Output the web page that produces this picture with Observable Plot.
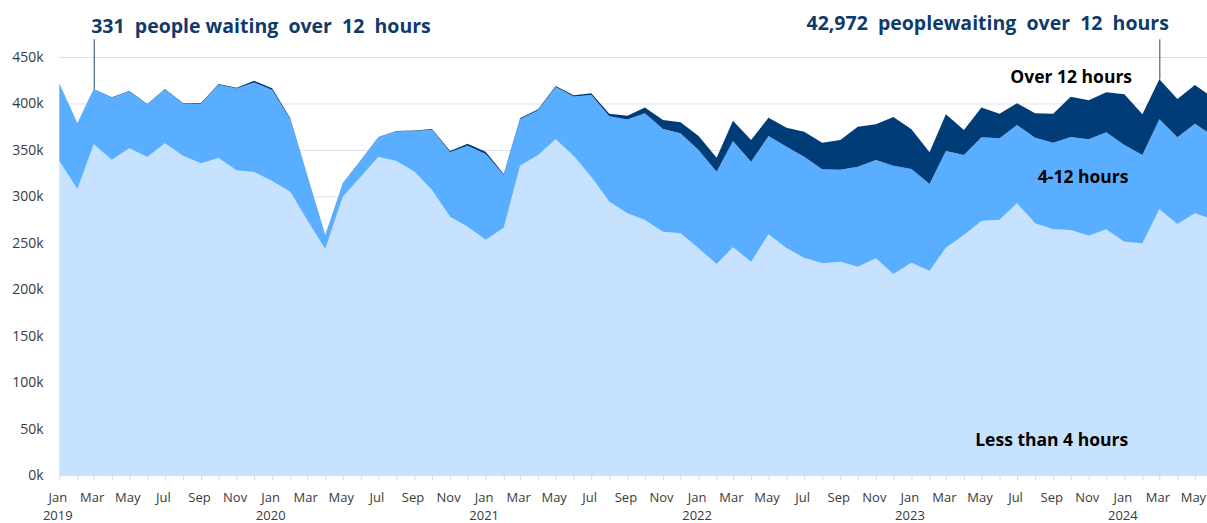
<!DOCTYPE html>
<html>
<head>
<meta charset="utf-8">
<script src="https://cdn.jsdelivr.net/npm/d3@7"></script>
<script src="https://cdn.jsdelivr.net/npm/@observablehq/plot@0.6"></script>
<style>
  html, body { margin: 0; padding: 0; background: #fff; overflow: hidden; }
  #chart svg text { white-space: pre; }
</style>
</head>
<body>
<div id="chart"></div>
<script>
// ---- Data (thousands of people) ----
const months = [
  "2019-01","2019-02","2019-03","2019-04","2019-05","2019-06","2019-07","2019-08","2019-09","2019-10","2019-11","2019-12",
  "2020-01","2020-02","2020-03","2020-04","2020-05","2020-06","2020-07","2020-08","2020-09","2020-10","2020-11","2020-12",
  "2021-01","2021-02","2021-03","2021-04","2021-05","2021-06","2021-07","2021-08","2021-09","2021-10","2021-11","2021-12",
  "2022-01","2022-02","2022-03","2022-04","2022-05","2022-06","2022-07","2022-08","2022-09","2022-10","2022-11","2022-12",
  "2023-01","2023-02","2023-03","2023-04","2023-05","2023-06","2023-07","2023-08","2023-09","2023-10","2023-11","2023-12",
  "2024-01","2024-02","2024-03","2024-04","2024-05","2024-06"
];
const lessThan4 = [
  338,308,356,339.5,351.7,342.3,357.1,343.8,335.5,341.3,328,326.2,
  316.5,305,274.5,243.3,299.6,321,342.7,338,326.5,306.8,278,267.3,
  253.3,266.2,333,344.5,361.4,343.4,321,294.2,281.7,274.5,262,260.2,
  244,227.1,245.1,229.6,259.1,244,234,227.9,229.6,224.2,233.3,216.4,
  228.5,219.6,244.7,258.4,273.4,274.9,292.5,271,264.5,263.8,257.6,264.5,
  251.2,249.4,286,270.2,281.7,275
];
const fourTo12 = [
  83.2,70.3,59.2,66.7,61.2,56.6,57.8,56.1,64.3,78.7,88,96.3,
  98,78,48,14.9,14.2,17.8,20.9,31.9,43.9,64.9,69.5,87.2,
  92.3,56.8,50,48.2,56.2,64.1,88.1,92,100.9,114.9,110.5,107.7,
  105.9,99.4,114.5,107.7,105.9,109.5,108.7,101.2,99.1,107.7,105.8,116.6,
  100.8,93.7,104.1,86.1,90.2,87.6,84.3,92.2,93.2,100.1,103.8,104.4,
  104.1,95.1,97,93.4,96.5,90.2
];
const over12 = [
  0.4,0.3,0.331,0.4,0.5,0.5,0.6,0.6,0.7,0.9,1.0,2.0,
  1.8,1.0,0.5,0.2,0.2,0.2,0.3,0.4,0.6,0.8,1.3,2.2,
  2.4,1.0,1.0,1.0,1.2,1.3,1.8,2.8,4.2,6.1,9.7,11.8,
  15.1,15.1,21.8,23.3,19.7,20.4,26.9,28.6,31.9,43.1,38.4,52.4,
  43,34.1,39.5,26.9,31.9,26.5,23.3,26.2,31.3,43.4,42,43.1,
  54.5,43.8,42.972,41.2,41.6,41.1
];
const seriesNames = ["Less than 4 hours", "4-12 hours", "Over 12 hours"];
const seriesColors = ["#c6e2ff", "#5aaeff", "#003c78"];

const yTicks = [0,50,100,150,200,250,300,350,400,450];
const yTickLabels = ["0k","50k","100k","150k","200k","250k","300k","350k","400k","450k"];
const monthLabels = ["Jan","Feb","Mar","Apr","May","Jun","Jul","Aug","Sep","Oct","Nov","Dec"];

const annotationMonths = ["2019-03", "2024-03"];
const annotationTexts = ["331  people waiting  over  12  hours", "42,972  peoplewaiting  over  12  hours"];

// ---- Build tidy table ----
const toDate = m => new Date(m + "-01T00:00:00Z");
const seriesValues = [lessThan4, fourTo12, over12];
const tidy = months.flatMap((m, i) => seriesNames.map((s, k) => ({date: toDate(m), series: s, value: seriesValues[k][i]})));
const totals = months.map((m, i) => lessThan4[i] + fourTo12[i] + over12[i]);
const annots = annotationMonths.map((m, j) => ({date: toDate(m), text: annotationTexts[j], top: totals[months.indexOf(m)]}));

const allMonthTicks = months.map(toDate);
const labelTicks = allMonthTicks.filter(d => d.getUTCMonth() % 2 === 0);
const yearTicks = allMonthTicks.filter(d => d.getUTCMonth() === 0);

const font = "'Open Sans', 'Noto Sans', sans-serif";
const navy = "#0f3b6c";

const chart = Plot.plot({
  width: 1207,
  height: 523,
  marginLeft: 59,
  marginRight: 0,
  marginTop: 57,
  marginBottom: 48,
  style: {fontFamily: font, fontSize: "14px", background: "#fff", color: "#3a3a3a", overflow: "hidden"},
  x: {type: "utc", domain: [toDate("2019-01"), toDate("2024-06")], range: [59.3, 1213], axis: null},
  y: {domain: [0, 450], axis: null},
  color: {domain: seriesNames, range: seriesColors},
  marks: [
    Plot.gridY(yTicks, {stroke: "#d9e1f0", strokeOpacity: 1}),
    Plot.areaY(tidy, {x: "date", y: "value", fill: "series", order: seriesNames, clip: true}),
    Plot.ruleY([0], {stroke: "#d9d9d9", clip: true}),
    Plot.axisX({ticks: allMonthTicks, tickSize: 5, tickFormat: () => "", stroke: "#d9d9d9", strokeOpacity: 1}),
    Plot.axisX({ticks: labelTicks, tickSize: 0, tickPadding: 17, dx: -2, tickFormat: d => monthLabels[d.getUTCMonth()], fontSize: 13, fill: "#3a3a3a"}),
    Plot.axisX({ticks: yearTicks, tickSize: 0, tickPadding: 35, dx: -2, tickFormat: d => String(d.getUTCFullYear()), fontSize: 13, fill: "#3a3a3a"}),
    Plot.axisY({ticks: yTicks, tickSize: 0, tickPadding: 16, tickFormat: d => yTickLabels[yTicks.indexOf(d)], fontSize: 14, fill: "#3a3a3a"}),
    // annotation leader lines
    Plot.ruleX(annots, {x: "date", y1: "top", y2: 469, stroke: "#24466b", strokeWidth: 1}),
    // annotation texts
    Plot.text([annots[0]], {x: "date", y: 483.4, text: "text", textAnchor: "start", dx: -3, fontSize: 19.5, fontWeight: "bold", fill: navy}),
    Plot.text([annots[1]], {x: "date", y: 485.8, text: "text", textAnchor: "end", dx: 9, fontSize: 19.5, fontWeight: "bold", fill: navy}),
    // series labels
    Plot.text([seriesNames[2]], {x: toDate("2023-10"), y: 428.4, text: d => d, fontSize: 17.5, fontWeight: "bold", fill: "#000"}),
    Plot.text([seriesNames[1]], {x: toDate("2023-10"), y: 321.1, dx: 12, text: d => d, fontSize: 17.5, fontWeight: "bold", fill: "#000"}),
    Plot.text([seriesNames[0]], {x: toDate("2023-10"), y: 37.7, dx: -19.5, text: d => d, fontSize: 17.5, fontWeight: "bold", fill: "#000"})
  ]
});
document.getElementById("chart").appendChild(chart);
</script>
</body>
</html>
